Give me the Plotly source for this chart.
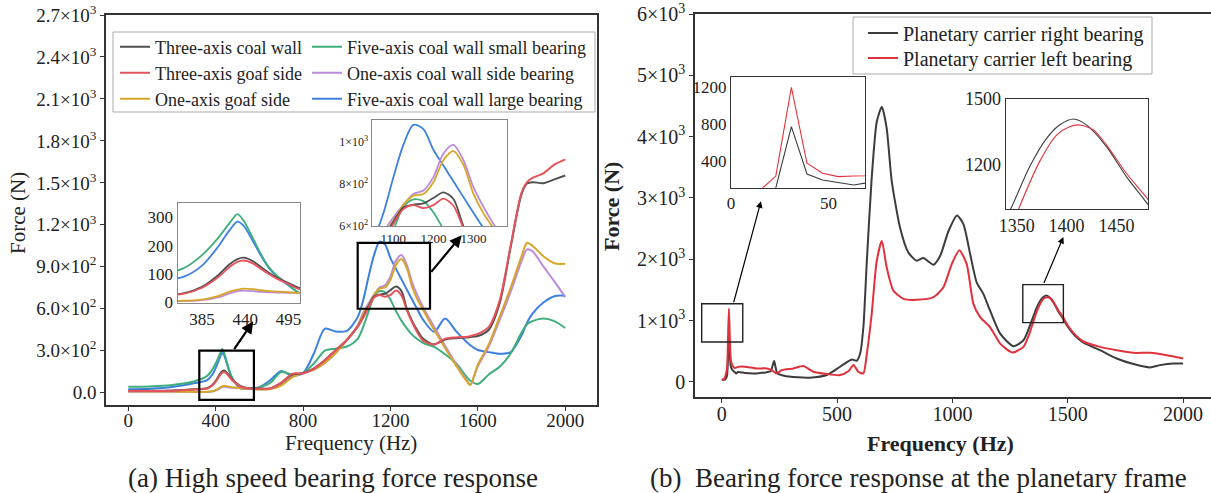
import plotly.graph_objects as go

W, H = 1211, 493
FONT = "Liberation Serif"

# ---------------- (a) High speed bearing force response ----------------
freq_a = [0, 100, 200, 300, 361, 385, 405, 420, 430, 438, 450, 460, 470, 480, 495, 510,
          550, 600, 650, 700, 750, 800, 850, 900, 950, 1000, 1050, 1075, 1100, 1125, 1150,
          1175, 1200, 1225, 1250, 1275, 1300, 1325, 1350, 1400, 1450, 1500, 1550, 1565,
          1600, 1650, 1700, 1750, 1800, 1825, 1850, 1900, 1950, 2000]

three_axis_coal_wall = [14, 14, 16, 24, 32, 55, 95, 135, 153, 158, 145, 125, 105, 88, 68, 50,
                        32, 30, 31, 70, 130, 139, 174, 234, 306, 377, 473, 540, 620, 688, 701,
                        707, 733, 760, 728, 600, 510, 440, 385, 345, 380, 390, 395, 398,
                        405, 450, 640, 1040, 1420, 1495, 1505, 1498, 1525, 1553]
three_axis_goaf_side = [12, 12, 14, 22, 30, 52, 88, 125, 143, 148, 137, 118, 100, 84, 65, 45,
                        30, 28, 30, 72, 135, 139, 172, 232, 304, 375, 470, 535, 610, 680, 699,
                        685, 699, 730, 696, 590, 500, 425, 370, 345, 385, 395, 400, 405,
                        420, 470, 660, 1050, 1430, 1505, 1535, 1568, 1630, 1668]
one_axis_goaf_side = [8, 8, 8, 6, 6, 10, 22, 38, 45, 49, 47, 43, 40, 38, 36, 34,
                      28, 22, 26, 50, 110, 140, 165, 215, 285, 375, 475, 560, 625, 700, 744,
                      752, 808, 912, 955, 890, 752, 660, 590, 450, 320, 195, 80, 55,
                      200, 345, 545, 750, 975, 1072, 1050, 975, 925, 922]
five_axis_small = [43, 45, 55, 80, 120, 167, 226, 280, 312, 288, 225, 170, 125, 95, 62, 32,
                   30, 38, 70, 148, 130, 140, 210, 300, 315, 330, 385, 470, 580, 690, 726,
                   718, 665, 585, 515, 460, 413, 380, 355, 328, 275, 210, 110, 85,
                   62, 130, 185, 280, 430, 490, 512, 530, 512, 462]
one_axis_side = [7, 7, 7, 5, 5, 8, 18, 32, 40, 42, 40, 37, 36, 35, 34, 33,
                 28, 24, 28, 55, 115, 139, 165, 212, 283, 375, 480, 570, 640, 700, 752,
                 768, 832, 944, 985, 912, 784, 690, 610, 470, 335, 205, 85, 55,
                 190, 330, 520, 720, 940, 1025, 1011, 903, 796, 683]
five_axis_large = [24, 28, 40, 67, 90, 130, 195, 255, 285, 270, 215, 165, 122, 92, 60, 32,
                   30, 40, 90, 155, 120, 140, 282, 458, 437, 442, 540, 660, 830, 985, 1080,
                   1060, 962, 887, 812, 737, 663, 590, 520, 436, 530, 440, 360, 340,
                   305, 290, 278, 290, 410, 500, 565, 645, 690, 693]

names_a = ["Three-axis coal wall", "Three-axis goaf side", "One-axis goaf side",
           "Five-axis coal wall small bearing", "One-axis coal wall side bearing",
           "Five-axis coal wall large bearing"]
colors_a = ["#505050", "#e5545a", "#d8a626", "#3fae7c", "#bb8ae0", "#3d80e0"]
series_a = [three_axis_coal_wall, three_axis_goaf_side, one_axis_goaf_side,
            five_axis_small, one_axis_side, five_axis_large]
draw_order_a = [5, 3, 4, 2, 0, 1]

ytick_a = [0, 300, 600, 900, 1200, 1500, 1800, 2100, 2400, 2700]
ytext_a = ["0.0", "3.0×10<sup>2</sup>", "6.0×10<sup>2</sup>", "9.0×10<sup>2</sup>",
           "1.2×10<sup>3</sup>", "1.5×10<sup>3</sup>", "1.8×10<sup>3</sup>",
           "2.1×10<sup>3</sup>", "2.4×10<sup>3</sup>", "2.7×10<sup>3</sup>"]
xtick_a = [0, 400, 800, 1200, 1600, 2000]

# ---------------- (b) Bearing force response at the planetary frame ----------------
freq_right_bearing = [0, 8, 16, 23, 31, 39, 47, 55, 63, 70, 100, 150, 195, 212, 227, 240, 270,
                      330, 380, 455, 513, 564, 585, 600, 614, 629, 650, 672, 694, 715, 737,
                      773, 809, 845, 874, 918, 947, 983, 1020, 1048, 1077, 1105, 1134, 1163,
                      1207, 1264, 1308, 1344, 1363, 1380, 1393, 1407, 1420, 1440, 1460, 1482,
                      1500, 1530, 1568, 1640, 1712, 1785, 1857, 1900, 1958, 2000]
force_right_bearing = [40, 38, 45, 105, 768, 256, 191, 165, 137, 162, 145, 140, 160, 175, 340,
                       150, 100, 75, 70, 113, 248, 367, 346, 464, 896, 1976, 3326, 4244, 4487,
                       4136, 3272, 2516, 2111, 1976, 2020, 1912, 2057, 2462, 2716, 2570, 2084,
                       1625, 1436, 1166, 788, 583, 680, 1000, 1192, 1321, 1382, 1409, 1382,
                       1283, 1147, 1018, 900, 760, 640, 518, 383, 292, 238, 275, 302, 302]
freq_left_bearing = [0, 8, 16, 23, 31, 39, 47, 55, 63, 70, 100, 150, 195, 217, 238, 260, 311,
                     354, 397, 455, 513, 550, 571, 592, 614, 629, 650, 672, 694, 715, 744,
                     788, 845, 918, 961, 997, 1030, 1062, 1091, 1120, 1163, 1207, 1260, 1308,
                     1335, 1352, 1373, 1390, 1403, 1413, 1427, 1440, 1460, 1482, 1500, 1530,
                     1568, 1640, 1712, 1785, 1857, 1929, 2000]
force_left_bearing = [35, 40, 100, 234, 1193, 372, 264, 228, 235, 246, 250, 221, 221, 194,
                      140, 194, 221, 259, 167, 130, 113, 180, 275, 167, 140, 464, 1112, 1976,
                      2300, 1868, 1490, 1355, 1339, 1382, 1544, 1922, 2149, 1922, 1274, 1058,
                      896, 626, 480, 572, 800, 1000, 1215, 1336, 1374, 1382, 1359, 1291, 1162,
                      1041, 920, 780, 660, 572, 518, 475, 475, 437, 383]

names_b = ["Planetary carrier right bearing", "Planetary carrier left bearing"]
colors_b = ["#3c3c3c", "#e0323c"]

ytick_b = [0, 1000, 2000, 3000, 4000, 5000, 6000]
ytext_b = ["0", "1×10<sup>3</sup>", "2×10<sup>3</sup>", "3×10<sup>3</sup>",
           "4×10<sup>3</sup>", "5×10<sup>3</sup>", "6×10<sup>3</sup>"]
xtick_b = [0, 500, 1000, 1500, 2000]


def px(x):
    return x / W


def py(y):
    return 1 - y / H


# legend slot positions (pixel x of legend box, pixel y of row centre)
legend_pos_a = [(115, 47), (115, 73), (115, 99), (307, 47), (307, 73), (307, 99)]
legend_pos_b = [(863, 33), (863, 58)]

fig = go.Figure()
legend_layout = {}

# main (a)
for i in draw_order_a:
    lname = "legend" if i == 0 else "legend%d" % (i + 1)
    fig.add_trace(go.Scatter(x=freq_a, y=series_a[i], mode="lines", name=names_a[i],
                             line=dict(color=colors_a[i], width=2, shape="spline", smoothing=0.8),
                             legend=lname, xaxis="x", yaxis="y"))
    lx, ly = legend_pos_a[i]
    legend_layout[lname] = dict(x=px(lx), y=py(ly), xanchor="left", yanchor="middle",
                                bgcolor="rgba(0,0,0,0)", borderwidth=0, itemwidth=30,
                                font=dict(family=FONT, size=18, color="#222"))
# inset (a) 1 and 2
for ax, ay in (("x3", "y3"), ("x4", "y4")):
    for i in draw_order_a:
        fig.add_trace(go.Scatter(x=freq_a, y=series_a[i], mode="lines", showlegend=False,
                                 line=dict(color=colors_a[i], width=1.8, shape="spline", smoothing=0.8),
                                 xaxis=ax, yaxis=ay))

# main (b)
fb = [freq_right_bearing, freq_left_bearing]
vb = [force_right_bearing, force_left_bearing]
for i in range(2):
    lname = "legend%d" % (7 + i)
    fig.add_trace(go.Scatter(x=fb[i], y=vb[i], mode="lines", name=names_b[i],
                             line=dict(color=colors_b[i], width=2, shape="spline", smoothing=0.6),
                             legend=lname, xaxis="x2", yaxis="y2"))
    lx, ly = legend_pos_b[i]
    legend_layout[lname] = dict(x=px(lx), y=py(ly), xanchor="left", yanchor="middle",
                                bgcolor="rgba(0,0,0,0)", borderwidth=0, itemwidth=30,
                                font=dict(family=FONT, size=20, color="#222"))
for i in range(2):
    fig.add_trace(go.Scatter(x=fb[i], y=vb[i], mode="lines", showlegend=False,
                             line=dict(color=colors_b[i], width=1.1),
                             xaxis="x5", yaxis="y5"))
for i in range(2):
    fig.add_trace(go.Scatter(x=fb[i], y=vb[i], mode="lines", showlegend=False,
                             line=dict(color=colors_b[i], width=1.1, shape="spline", smoothing=0.8),
                             xaxis="x6", yaxis="y6"))

tickfont = dict(family=FONT, size=19, color="#222")
main_axis = dict(showline=True, linecolor="#333", linewidth=1.6, ticks="outside", ticklen=4,
                 tickwidth=1.4, tickcolor="#333", showgrid=False, zeroline=False,
                 tickfont=tickfont, automargin=False)


def inset_axis(color, size):
    return dict(showline=True, mirror=True, linecolor=color, linewidth=1.4, ticks="",
                showgrid=False, zeroline=False, automargin=False,
                tickfont=dict(family=FONT, size=size, color="#222"))


fig.update_layout(
    width=W, height=H, margin=dict(l=0, r=0, t=0, b=0),
    template="none", paper_bgcolor="white", plot_bgcolor="white",
    font=dict(family=FONT, size=18, color="#222"),
    xaxis=dict(main_axis, domain=[px(106), px(596.7)], range=[-102, 2144], anchor="y",
               mirror=True, tickvals=xtick_a, ticklabelstandoff=-7),
    yaxis=dict(main_axis, domain=[py(405), py(15)], range=[-88, 2700], anchor="x",
               mirror=True, tickvals=ytick_a, ticktext=ytext_a, tickfont=dict(tickfont, size=19)),
    xaxis2=dict(main_axis, domain=[px(695), 1.0], range=[-116, 2121], anchor="y2",
                mirror=True, tickvals=xtick_b, tickfont=dict(tickfont, size=20),
                ticklabelstandoff=-6),
    yaxis2=dict(main_axis, domain=[py(397), py(14)], range=[-245, 6000], anchor="x2",
                tickvals=ytick_b, ticktext=ytext_b, tickfont=dict(tickfont, size=20)),
    xaxis3=dict(inset_axis("#888", 17), domain=[px(177.7), px(300.3)], range=[354, 510],
                anchor="y3", tickvals=[385, 440, 495]),
    yaxis3=dict(inset_axis("#888", 17), domain=[py(303), py(202.7)], range=[-2, 352],
                anchor="x3", tickvals=[0, 100, 200, 300]),
    xaxis4=dict(inset_axis("#888", 13), domain=[px(371.7), px(506.7)], range=[1046, 1383],
                anchor="y4", tickvals=[1100, 1200, 1300]),
    yaxis4=dict(inset_axis("#888", 12), domain=[py(226), py(120)], range=[600, 1103],
                anchor="x4", tickvals=[600, 800, 1000],
                ticktext=["6×10<sup>2</sup>", "8×10<sup>2</sup>", "1×10<sup>3</sup>"]),
    xaxis5=dict(inset_axis("#333", 17), domain=[px(731), px(865)], range=[0, 68.8],
                anchor="y5", tickvals=[0, 50]),
    yaxis5=dict(inset_axis("#333", 17), domain=[py(187.7), py(76.7)], range=[108, 1308],
                anchor="x5", tickvals=[400, 800, 1200]),
    xaxis6=dict(inset_axis("#333", 18), domain=[px(1005.7), px(1148.3)], range=[1339, 1482],
                anchor="y6", tickvals=[1350, 1400, 1450]),
    yaxis6=dict(inset_axis("#333", 18), domain=[py(209.3), py(99)], range=[998, 1500],
                anchor="x6", tickvals=[1200, 1500]),
    showlegend=True,
)
fig.update_layout(**legend_layout)

shapes = [
    # legend borders
    dict(type="rect", xref="paper", yref="paper", x0=px(113), x1=px(595), y0=py(112), y1=py(32),
         line=dict(color="#aaa", width=1)),
    dict(type="rect", xref="paper", yref="paper", x0=px(853), x1=px(1152), y0=py(74), y1=py(17),
         line=dict(color="#aaa", width=1)),
    # zoom boxes (a)
    dict(type="rect", xref="x", yref="y", x0=325, x1=575, y0=-52, y1=300,
         line=dict(color="black", width=2.2)),
    dict(type="rect", xref="x", yref="y", x0=1050, x1=1381, y0=600, y1=1071,
         line=dict(color="black", width=2.2)),
    # zoom boxes (b)
    dict(type="rect", xref="x2", yref="y2", x0=-87, x1=91, y0=653, y1=1275,
         line=dict(color="#222", width=1.4)),
    dict(type="rect", xref="x2", yref="y2", x0=1305, x1=1481, y0=967, y1=1588,
         line=dict(color="#222", width=1.4)),
]
fig.update_layout(shapes=shapes)

arrows = [
    dict(x=572, y=510, ax=480, ay=300, xref="x", yref="y", axref="x", ayref="y", w=2.2),
    dict(x=1526, y=1126, ax=1381, ay=853, xref="x", yref="y", axref="x", ayref="y", w=2.2),
    dict(x=170, y=2948, ax=50, ay=1275, xref="x2", yref="y2", axref="x2", ayref="y2", w=1.2),
    dict(x=1481, y=2365, ax=1394, ay=1588, xref="x2", yref="y2", axref="x2", ayref="y2", w=1.2),
]
annotations = []
for a in arrows:
    annotations.append(dict(x=a["x"], y=a["y"], ax=a["ax"], ay=a["ay"], xref=a["xref"],
                            yref=a["yref"], axref=a["axref"], ayref=a["ayref"], text="",
                            showarrow=True, arrowhead=2, arrowsize=1.1, arrowwidth=a["w"],
                            arrowcolor="black"))

texts = [
    ("Force (N)", 18, 213, 21, -90, False),
    ("Frequency (Hz)", 351, 443, 21, 0, False),
    ("Force (N)", 612, 207, 22, -90, True),
    ("Frequency (Hz)", 940, 443, 22, 0, True),
    ("(a) High speed bearing force response", 333, 478, 27, 0, False),
    ("(b)\u00a0 Bearing force response at the planetary frame", 918, 478, 27, 0, False),
]
for t, x, y, s, ang, bold in texts:
    annotations.append(dict(text=("<b>%s</b>" % t) if bold else t, x=px(x), y=py(y),
                            xref="paper", yref="paper", showarrow=False, textangle=ang,
                            xanchor="center", yanchor="middle",
                            font=dict(family=FONT, size=s, color="#222")))
fig.update_layout(annotations=annotations)

fig.write_html("out.html")
